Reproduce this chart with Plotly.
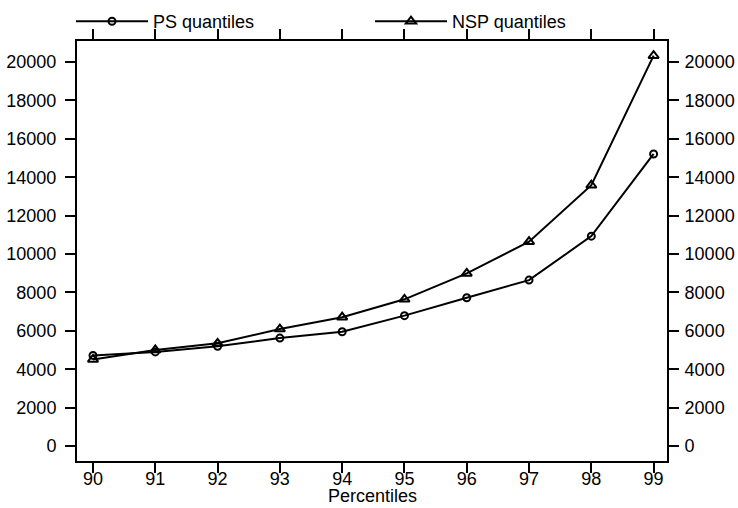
import plotly.graph_objects as go

percentiles = [90, 91, 92, 93, 94, 95, 96, 97, 98, 99]
ps_quantiles = [4720, 4900, 5190, 5620, 5950, 6790, 7720, 8640, 10930, 15210]
nsp_quantiles = [4510, 5000, 5350, 6090, 6710, 7640, 8990, 10640, 13580, 20330]
y_ticks = [0, 2000, 4000, 6000, 8000, 10000, 12000, 14000, 16000, 18000, 20000]
y_tick_labels = [str(v) for v in y_ticks]

FONT = "Liberation Sans, Arial, sans-serif"
FS = 18
yrange = [-781, 21093]
xrange_ = [89.743, 99.215]

fig = go.Figure()
fig.add_trace(go.Scatter(
    x=percentiles, y=ps_quantiles, name="PS quantiles", mode="lines+markers",
    line=dict(color="black", width=2),
    marker=dict(symbol="circle-open", size=7, color="black", line=dict(width=2)),
))
fig.add_trace(go.Scatter(
    x=percentiles, y=nsp_quantiles, name="NSP quantiles", mode="lines+markers",
    line=dict(color="black", width=2),
    marker=dict(symbol="triangle-up-open", size=9, color="black", line=dict(width=2)),
    legend="legend2",
))
# invisible traces to activate the mirrored axes
fig.add_trace(go.Scatter(x=percentiles, y=ps_quantiles, xaxis="x2", yaxis="y2", mode="none",
                         showlegend=False, hoverinfo="skip"))

axis_common = dict(showgrid=False, zeroline=False, showline=True, linecolor="black",
                   linewidth=2, ticks="outside", ticklen=10, tickwidth=2, tickcolor="black",
                   tickfont=dict(family=FONT, size=FS, color="black"))

fig.update_layout(
    width=738, height=508,
    margin=dict(l=77, r=71, t=41, b=47, autoexpand=False),
    plot_bgcolor="white", paper_bgcolor="white",
    font=dict(family=FONT, size=FS, color="black"),
    xaxis=dict(range=xrange_, tickvals=percentiles, ticklabelstandoff=-10,
               **axis_common),
    xaxis2=dict(range=xrange_, tickvals=percentiles, overlaying="x", side="top",
                showticklabels=False, **axis_common),
    yaxis=dict(range=yrange, tickvals=y_ticks, ticktext=y_tick_labels,
               ticklabelstandoff=5, **axis_common),
    yaxis2=dict(range=yrange, tickvals=y_ticks, ticktext=y_tick_labels, overlaying="y",
                side="right", ticklabelstandoff=2, **axis_common),
    legend=dict(orientation="h", x=71 / 738, xref="container", xanchor="left",
                y=1 - 3 / 508, yref="container", yanchor="top",
                itemwidth=72, bgcolor="rgba(0,0,0,0)",
                font=dict(family=FONT, size=FS, color="black")),
    legend2=dict(orientation="h", x=370 / 738, xref="container", xanchor="left",
                 y=1 - 3 / 508, yref="container", yanchor="top",
                 itemwidth=72, bgcolor="rgba(0,0,0,0)",
                 font=dict(family=FONT, size=FS, color="black")),
    annotations=[dict(text="Percentiles", x=0.5, xref="paper", y=(461 - 496) / 420,
                      yref="paper", yanchor="middle", showarrow=False,
                      font=dict(family=FONT, size=FS, color="black"))],
)

fig.write_html("out.html")
